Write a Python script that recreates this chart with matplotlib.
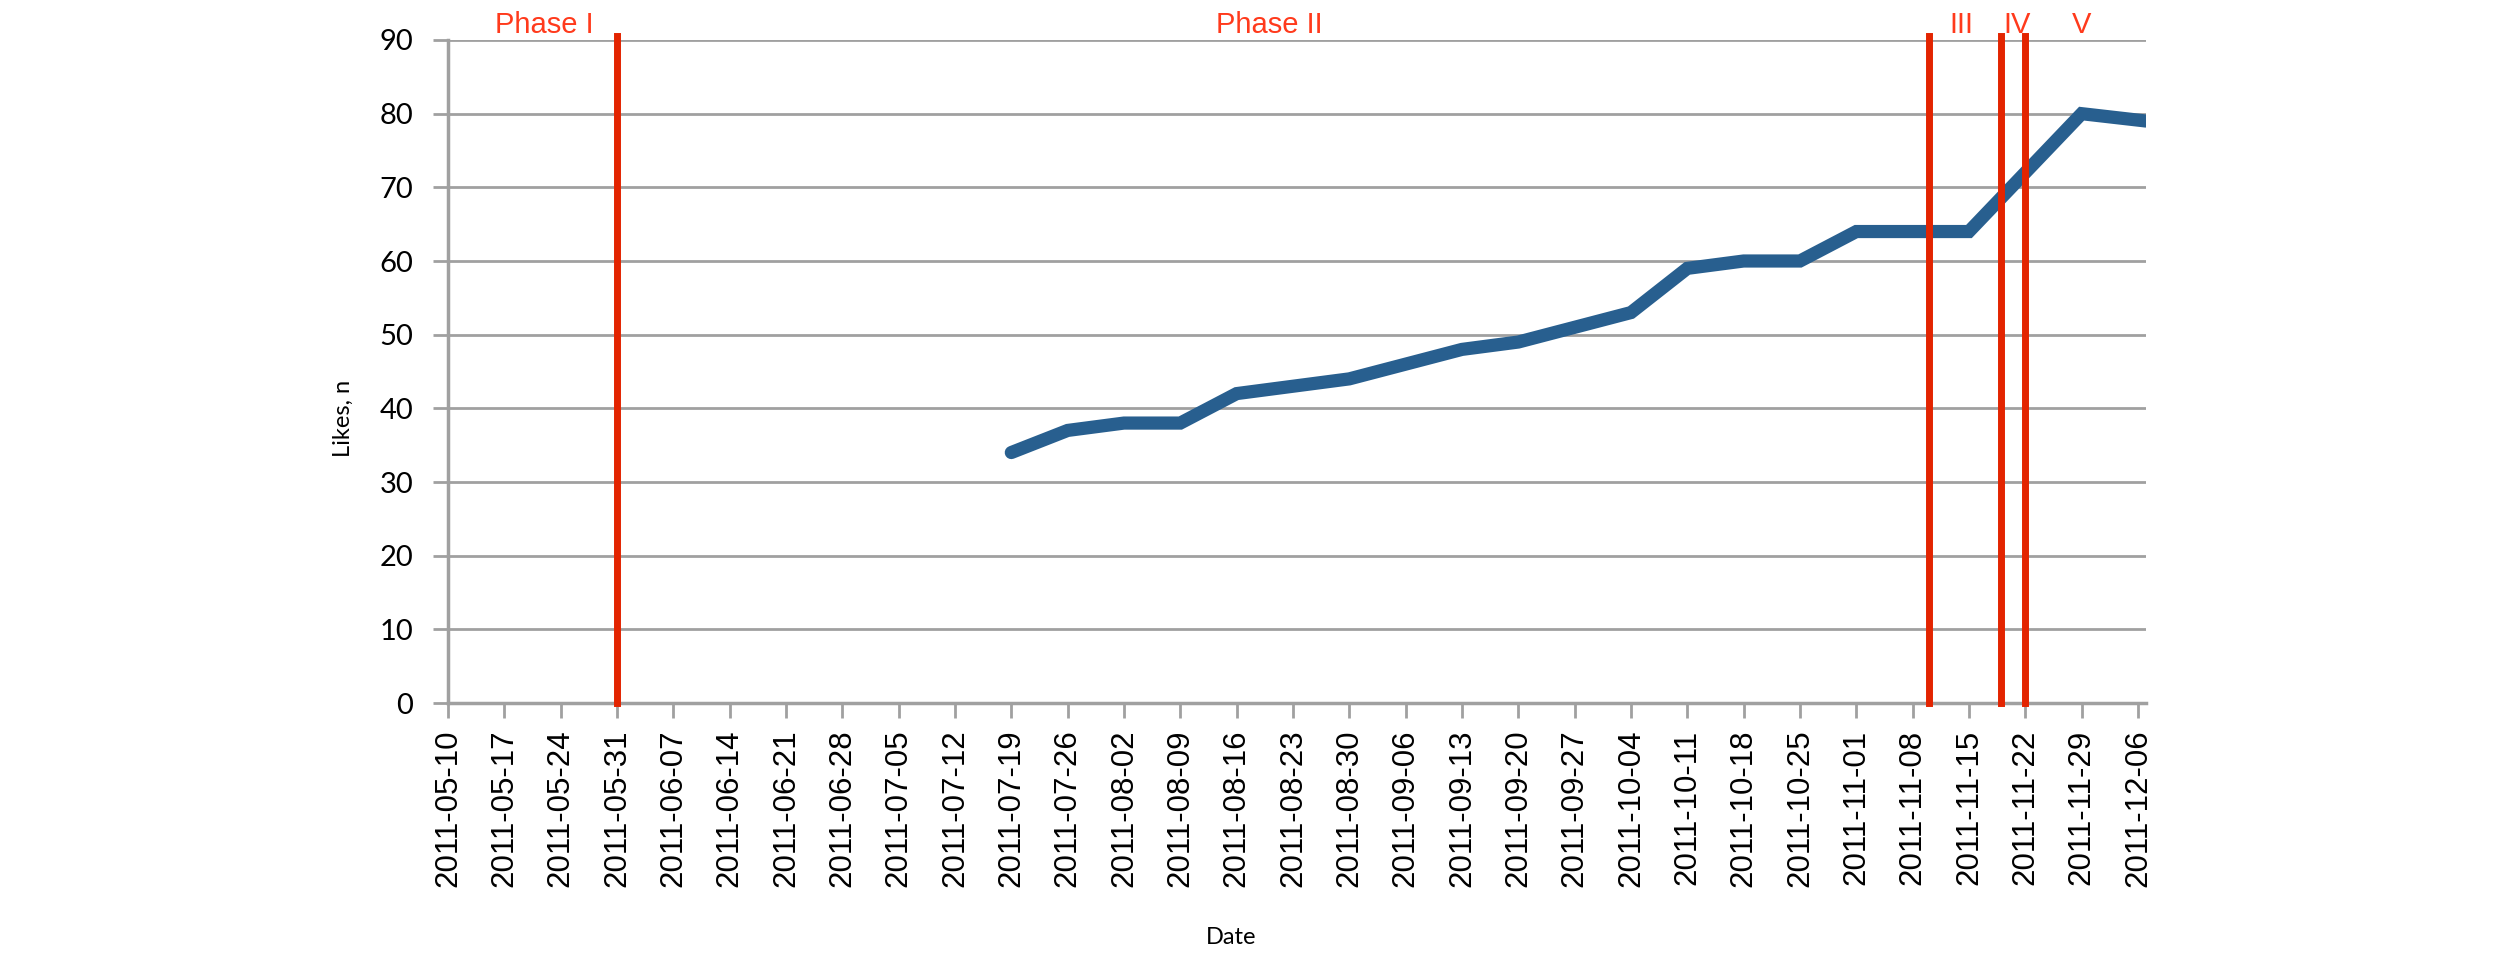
import datetime as dt
import matplotlib
matplotlib.use("Agg")
import matplotlib.pyplot as plt
import matplotlib.dates as mdates

# weekly like counts
dates = ["2011-07-19", "2011-07-26", "2011-08-02", "2011-08-09", "2011-08-16",
         "2011-08-23", "2011-08-30", "2011-09-06", "2011-09-13", "2011-09-20",
         "2011-09-27", "2011-10-04", "2011-10-11", "2011-10-18", "2011-10-25",
         "2011-11-01", "2011-11-08", "2011-11-15", "2011-11-22", "2011-11-29",
         "2011-12-07"]
likes = [34, 37, 38, 38, 42, 43, 44, 46, 48, 49, 51, 53, 59, 60, 60,
         64, 64, 64, 72, 80, 79]

# phase boundaries and labels
phase_breaks = ["2011-05-31", "2011-11-10", "2011-11-19", "2011-11-22"]
phase_names = ["Phase I", "Phase II", "III", "IV", "V"]
phase_label_dates = ["2011-05-22", "2011-08-20", "2011-11-14", "2011-11-21", "2011-11-29"]

x_start, x_end = "2011-05-10", "2011-12-07"
y_ticks = list(range(0, 91, 10))

to_d = lambda s: dt.datetime.strptime(s, "%Y-%m-%d")
x = [to_d(d) for d in dates]
week_ticks = [to_d(x_start) + dt.timedelta(days=7 * i) for i in range(31)]

grid_c = "#a0a0a0"
red_line = "#e32400"
red_text = "#ff3a1c"
blue = "#285f8f"

fig = plt.figure(figsize=(25, 9.56), dpi=100)
ax = fig.add_axes([448 / 2500, 1 - 703 / 956, 1698 / 2500, 663 / 956])

ax.plot(x, likes, color=blue, lw=9.5, solid_capstyle="round", solid_joinstyle="miter", zorder=3)

for b in phase_breaks:
    ax.plot([to_d(b), to_d(b)], [0, 90.6], color=red_line, lw=5, zorder=4, clip_on=False)

for name, d in zip(phase_names, phase_label_dates):
    ax.text(to_d(d), 91.0, name, color=red_text, fontsize=21, ha="center", va="baseline",
            family="Liberation Sans")

ax.set_xlim(to_d(x_start), to_d(x_end))
ax.set_ylim(0, 90)
ax.set_yticks(y_ticks)
ax.yaxis.grid(True, color=grid_c, lw=2)
ax.set_axisbelow(True)

ax.set_xticks(week_ticks)
ax.xaxis.set_major_formatter(mdates.DateFormatter("%Y-%m-%d"))
for lab in ax.get_xticklabels():
    lab.set_rotation(90)
    lab.set_fontsize(22.5)
    lab.set_family("Liberation Sans")
for lab in ax.get_yticklabels():
    lab.set_fontsize(21)
    lab.set_family("Lato")

ax.tick_params(axis="both", color=grid_c, width=2, length=11, pad=8)
ax.tick_params(axis="y", pad=14)
for side in ["top", "right"]:
    ax.spines[side].set_visible(False)
for side in ["left", "bottom"]:
    ax.spines[side].set_color(grid_c)
    ax.spines[side].set_linewidth(2.5)

fig.text(343 / 2500, 1 - 418 / 956, "Likes, n", rotation=90, ha="center", va="center",
         fontsize=17, family="Lato")
fig.text(1231 / 2500, 1 - 937 / 956, "Date", ha="center", va="center",
         fontsize=17, family="Lato")

fig.savefig("out.png", dpi=100)
